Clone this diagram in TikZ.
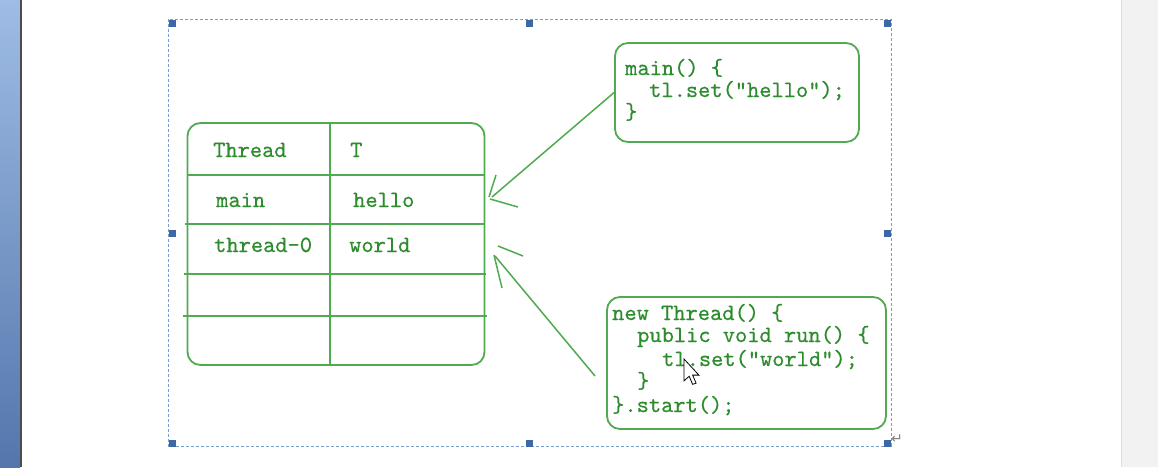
\documentclass[tikz,border=0pt]{standalone}
\usepackage{fontspec}
\newfontfamily\codefont{lmmono10-regular.otf}[FakeBold=0.5]
\newfontfamily\symfont{DejaVu Sans}
\definecolor{gline}{RGB}{80,170,80}
\definecolor{gtext}{RGB}{45,140,45}
\definecolor{selblue}{RGB}{120,158,208}
\definecolor{handle}{RGB}{60,104,165}
\definecolor{stripA}{RGB}{158,188,228}
\definecolor{stripB}{RGB}{84,118,172}
\begin{document}
\begin{tikzpicture}[x=1pt,y=-1pt,
  gbox/.style={draw=gline,line width=1.8pt,rounded corners=13pt,inner sep=0pt},
  gln/.style={draw=gline,line width=1.8pt},
  arw/.style={draw=gline,line width=1.5pt},
  code/.style={anchor=base west,inner sep=0pt,text=gtext,font=\codefont\fontsize{23.3}{23}\selectfont},
  hdl/.style={fill=handle,draw=none,minimum size=7pt,inner sep=0pt}]
\useasboundingbox (0,0) rectangle (1158,467);
\fill[white] (0,0) rectangle (1158,467);
% window strips
\shade[top color=stripA,bottom color=stripB] (0,0) rectangle (20,467);
\draw[gray!60!black,line width=1.5pt] (21,0) -- (21,467);
\fill[gray!10] (1121,0) rectangle (1158,467);
\draw[gray!25] (1121,0) -- (1121,467);
% selection frame
\draw[selblue,line width=1pt,dash pattern=on 3pt off 2pt] (168,19) rectangle (891,446);
\foreach \n/\p in {h1/{(172,23)},h2/{(529,23)},h3/{(887,23)},h4/{(172,233)},h5/{(887,233)},h6/{(172,443)},h7/{(529,443)},h8/{(887,443)}}
  \node[hdl] (\n) at \p {};
\node[anchor=west,inner sep=0pt,text=gray,font=\symfont\fontsize{14}{14}\selectfont] (pmark) at (891,439) {↵};
% table
\node[gbox,minimum width=297pt,minimum height=242pt] (tbl) at (336,244) {};
\draw[gln] (330,124) -- (330,364);
\draw[gln] (187,175) -- (485,175);
\draw[gln] (185,224) -- (484,224);
\draw[gln] (184,274) -- (486,274);
\draw[gln] (183,316) -- (487,316);
\node[code] (tA) at (213,157) {Thread};
\node[code] (tB) at (350,157) {T};
\node[code] (tC) at (216,207) {main};
\node[code] (tD) at (353,207) {hello};
\node[code] (tE) at (214,252) {thread-0};
\node[code] (tF) at (349,252) {world};
% code box 1
\node[gbox,minimum width=244pt,minimum height=99pt] (box1) at (737,92.5) {};
\node[code] (c1a) at (625,75) {main() \{};
\node[code] (c1b) at (649,97) {tl.set(“hello”);};
\node[code] (c1c) at (625,119) {\}};
% code box 2
\node[gbox,minimum width=279pt,minimum height=132pt] (box2) at (746.5,363) {};
\node[code] (c2a) at (612,320) {new Thread() \{};
\node[code] (c2b) at (637,342) {public void run() \{};
\node[code] (c2c) at (662,366) {tl.set(“world”);};
\node[code] (c2d) at (637,388) {\}};
\node[code] (c2e) at (612,412) {\}.start();};
% arrows
\coordinate (t1) at (492,197);
\coordinate (s2) at (595,376);
\coordinate (t2) at (495,256);
\draw[arw] (box1.west) -- (t1);
\draw[arw] (496,175) -- (489,197);
\draw[arw] (490,199) -- (518,207);
\draw[arw] (s2) -- (t2);
\draw[arw] (498,246) -- (523,256);
\draw[arw] (494,255) -- (502,288);
% mouse cursor
\draw[black,fill=white,line width=0.8pt,shift={(684,359)},scale=1.15] (0,0) -- (0,19) -- (4.5,15) -- (7.5,22) -- (10.5,21) -- (7.5,14) -- (13,14) -- cycle;
\end{tikzpicture}
\end{document}
